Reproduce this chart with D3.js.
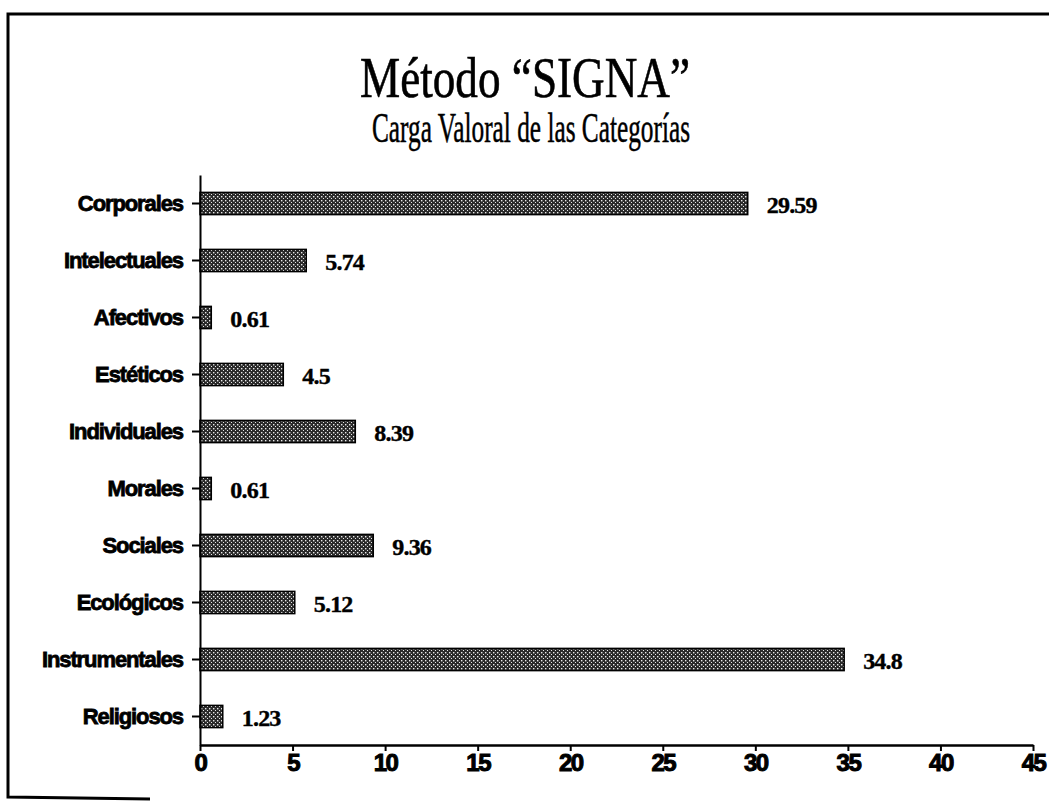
<html>
<head>
  <meta charset="utf-8">
  <style>
    body { margin: 0; background: white; }
    svg { display: block; }
  </style>
  <script src="https://cdn.jsdelivr.net/npm/d3@7"></script>
</head>
<body>
  <svg id="chart"></svg>
</body>
<script>
  // values
  let categories = ["Corporales", "Intelectuales", "Afectivos", "Estéticos", "Individuales",
                    "Morales", "Sociales", "Ecológicos", "Instrumentales", "Religiosos"]
  let values = [29.59, 5.74, 0.61, 4.5, 8.39, 0.61, 9.36, 5.12, 34.8, 1.23]
  let valueLabels = ["29.59", "5.74", "0.61", "4.5", "8.39", "0.61", "9.36", "5.12", "34.8", "1.23"]
  let xTicks = [0, 5, 10, 15, 20, 25, 30, 35, 40, 45]

  let width = 1049, height = 804
  let margin = { top: 175, left: 200, right: 15, bottom: 59 }
  let bodyWidth = 833
  let bodyHeight = height - margin.top - margin.bottom

  let svg = d3.select("#chart").attr("width", width).attr("height", height)

  // dotted fill like the printed screen
  let defs = svg.append("defs")
  let pat = defs.append("pattern")
    .attr("id", "dots").attr("patternUnits", "userSpaceOnUse")
    .attr("width", 4).attr("height", 4)
  pat.append("rect").attr("width", 4).attr("height", 4).attr("fill", "#2a2a2a")
  pat.append("rect").attr("x", 1).attr("y", 1).attr("width", 1.4).attr("height", 1.4).attr("fill", "#e8e8e8")
  pat.append("rect").attr("x", 3).attr("y", 3).attr("width", 1.4).attr("height", 1.4).attr("fill", "#e8e8e8")

  // frame of the page
  svg.append("path")
    .attr("d", "M1049,14 L8,14 L8,797 L150,799")
    .attr("fill", "none").attr("stroke", "black").attr("stroke-width", 3)

  // titles
  svg.append("text")
    .attr("x", 525).attr("y", 97)
    .attr("text-anchor", "middle")
    .attr("font-family", "Liberation Serif")
    .attr("font-size", 56)
    .attr("stroke", "black").attr("stroke-width", 0.6)
    .attr("textLength", 330).attr("lengthAdjust", "spacingAndGlyphs")
    .text("Método \u201CSIGNA\u201D")
  svg.append("text")
    .attr("x", 531).attr("y", 142)
    .attr("text-anchor", "middle")
    .attr("font-family", "Liberation Serif")
    .attr("font-size", 42)
    .attr("stroke", "black").attr("stroke-width", 0.5)
    .attr("textLength", 318).attr("lengthAdjust", "spacingAndGlyphs")
    .text("Carga Valoral de las Categorías")

  let xScale = d3.scaleLinear().domain([0, 45]).range([0, bodyWidth])
  let yScale = d3.scaleBand().domain(categories).range([0, bodyHeight]).paddingInner(0.61).paddingOuter(0.305)

  let body = svg.append("g").attr("transform", `translate(${margin.left},${margin.top})`)

  body.selectAll(".bar")
    .data(categories)
    .enter().append("rect")
    .attr("class", "bar")
    .attr("x", 0)
    .attr("y", d => yScale(d))
    .attr("height", yScale.bandwidth())
    .attr("width", (d, i) => xScale(values[i]))
    .attr("fill", "url(#dots)")
    .attr("stroke", "black").attr("stroke-width", 1.5)

  body.selectAll(".val")
    .data(categories)
    .enter().append("text")
    .attr("class", "val")
    .attr("x", (d, i) => xScale(values[i]) + 19)
    .attr("y", d => yScale(d) + yScale.bandwidth() / 2 + 9)
    .attr("font-family", "Liberation Serif")
    .attr("font-weight", "bold")
    .attr("font-size", 24)
    .attr("letter-spacing", -0.8)
    .attr("stroke", "black").attr("stroke-width", 0.4)
    .text((d, i) => valueLabels[i])

  // axes
  let axisX = d3.axisBottom(xScale).tickValues(xTicks).tickSize(6).tickPadding(3).tickSizeOuter(0)
  let gx = body.append("g")
    .attr("transform", `translate(0,${bodyHeight})`)
    .call(axisX)
  gx.select(".domain").attr("stroke-width", 2.5)
  gx.selectAll(".tick line").attr("stroke-width", 2)
  gx.selectAll("text")
    .attr("font-family", "Liberation Sans").attr("font-weight", "bold")
    .attr("font-size", 24).attr("letter-spacing", -1.5).attr("fill", "black")
    .attr("stroke", "black").attr("stroke-width", 1)

  let axisY = d3.axisLeft(yScale).tickSize(8).tickPadding(9).tickSizeOuter(0)
  let gy = body.append("g").call(axisY)
  gy.select(".domain").attr("stroke-width", 2)
  gy.selectAll(".tick line").attr("stroke-width", 2)
  gy.selectAll("text")
    .attr("font-family", "Liberation Sans").attr("font-weight", "bold")
    .attr("font-size", 22).attr("letter-spacing", -1.1).attr("fill", "black")
    .attr("stroke", "black").attr("stroke-width", 0.8)
</script>
</html>
